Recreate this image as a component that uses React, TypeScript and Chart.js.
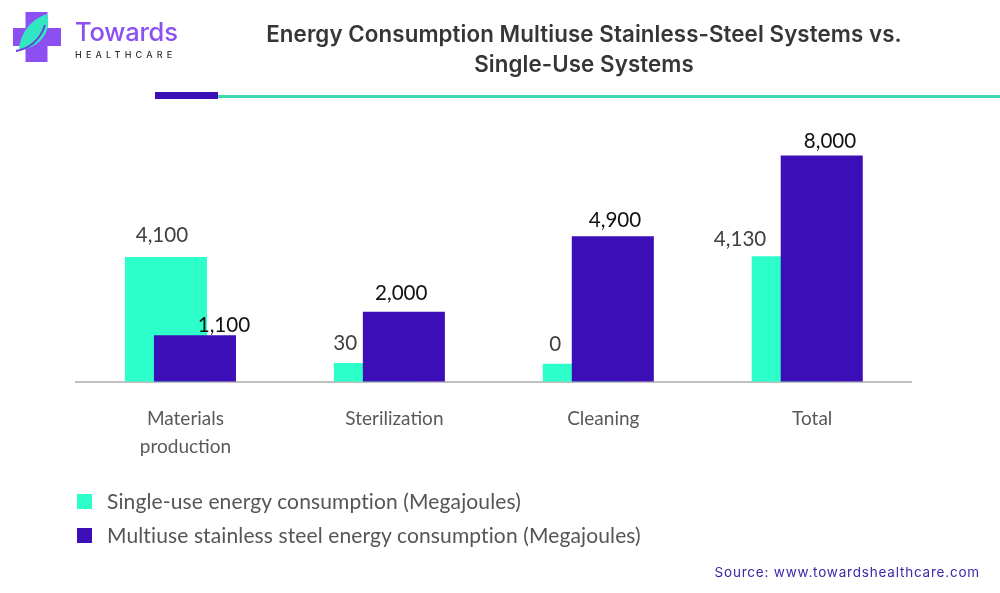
import React, { useEffect, useRef } from 'react';
import { Chart, registerables } from 'chart.js';

Chart.register(...registerables);

// ---- data ----
const categories: (string | string[])[] = [['Materials', 'production'], 'Sterilization', 'Cleaning', 'Total'];
const singleUseValues = [4100, 30, 0, 4130];
const multiuseValues = [1100, 2000, 4900, 8000];
const seriesNames = [
  'Single-use energy consumption (Megajoules)',
  'Multiuse stainless steel energy consumption (Megajoules)',
];

// ---- styles ----
const TEAL = '#2CFFC9';
const PURPLE = '#3C0EB7';
const AXIS_MIN = -680;
const AXIS_MAX = 9000;
const labelColors = ['#404040', '#111111'];
// value-label nudges [dx, dy] relative to bar top-centre
const labelNudges = [
  [[-4, -15], [-29.6, -13], [-28.5, -13], [-52.7, -10]],
  [[29, -3.5], [-2.6, -11.7], [2.2, -9.5], [8.3, -7.5]],
];

const drawOrderPlugin = {
  id: 'drawOrder',
  beforeDatasetsDraw(chart: any) {
    for (let i = 0; i < chart.data.datasets.length; i++) {
      if (chart.isDatasetVisible(i)) chart.getDatasetMeta(i).controller.draw();
    }
    return false;
  },
};

const valueLabelPlugin = {
  id: 'valueLabels',
  afterDraw(chart: any) {
    const ctx = chart.ctx;
    ctx.save();
    ctx.font = '20.6px Lato';
    ctx.textAlign = 'center';
    ctx.textBaseline = 'alphabetic';
    chart.data.datasets.forEach((ds: any, i: number) => {
      const meta = chart.getDatasetMeta(i);
      meta.data.forEach((el: any, j: number) => {
        const v = ds.data[j];
        const [dx, dy] = labelNudges[i][j];
        ctx.fillStyle = labelColors[i];
        ctx.fillText(Number(v).toLocaleString('en-US'), el.x + dx, el.y + dy);
      });
    });
    ctx.restore();
  },
};

function Logo() {
  return (
    <svg width="190" height="70" viewBox="0 0 190 70" style={{ position: 'absolute', left: 0, top: 0 }}>
      <rect x="25.5" y="12" width="22" height="50" fill="#8B4FF2" />
      <rect x="13" y="28" width="48" height="18" fill="#8B4FF2" />
      <path d="M19 49 C 21 31, 32 19, 47 14 C 51 27, 45 41, 31 47 C 27 49, 23 49, 19 49 Z" fill="#33E6C2" />
      <path d="M16 51 C 28 49, 40 41, 45 25" stroke="#6A3BE0" strokeWidth="1.8" fill="none" />
      <text x="75" y="41" fontFamily="Inter" fontWeight="500" fontSize="25.5" fill="#8B4FF2" letterSpacing="-0.2">Towards</text>
      <text x="75" y="58" fontFamily="Inter" fontWeight="500" fontSize="9" fill="#333" letterSpacing="4.2">HEALTHCARE</text>
    </svg>
  );
}

export default function App() {
  const canvasRef = useRef<HTMLCanvasElement | null>(null);

  useEffect(() => {
    const canvas = canvasRef.current;
    if (!canvas) return;
    const chart = new Chart(canvas, {
      type: 'bar',
      data: {
        labels: categories as any,
        datasets: [
          {
            label: seriesNames[0],
            data: singleUseValues,
            backgroundColor: TEAL,
            base: AXIS_MIN,
            categoryPercentage: 0.2775,
            barPercentage: 2.83,
          } as any,
          {
            label: seriesNames[1],
            data: multiuseValues,
            backgroundColor: PURPLE,
            base: AXIS_MIN,
            categoryPercentage: 0.2775,
            barPercentage: 2.83,
          } as any,
        ],
      },
      options: {
        responsive: false,
        animation: false,
        devicePixelRatio: 1,
        layout: { padding: { left: 76, right: 88.3, top: 129.5, bottom: 111.5 } },
        plugins: {
          legend: { display: false },
          tooltip: { enabled: false },
        },
        scales: {
          x: {
            grid: { display: false, drawTicks: false },
            border: { display: true, color: '#BFBFBF', width: 2 },
            ticks: {
              color: '#595959',
              font: { family: 'Lato', size: 19, lineHeight: 1.47 },
              padding: 23,
              labelOffset: 5,
              maxRotation: 0,
              autoSkip: false,
            },
            afterFit: (s: any) => {
              s.height = 100;
            },
          } as any,
          y: { display: false, min: AXIS_MIN, max: AXIS_MAX, beginAtZero: false },
        },
      },
      plugins: [drawOrderPlugin as any, valueLabelPlugin as any],
    });
    return () => chart.destroy();
  }, []);

  const legendText: React.CSSProperties = {
    position: 'absolute',
    left: 107,
    fontFamily: 'Lato',
    fontSize: 21,
    lineHeight: '20px',
    letterSpacing: 0.12,
    color: '#555555',
    whiteSpace: 'nowrap',
  };

  return (
    <div style={{ position: 'absolute', left: 0, top: 0, width: 1000, height: 593, background: '#fff', overflow: 'hidden' }}>
      <canvas ref={canvasRef} width={1000} height={593} style={{ position: 'absolute', left: 0, top: 0, width: 1000, height: 593 }} />
      <Logo />
      <div
        style={{
          position: 'absolute',
          left: 184,
          top: 18.5,
          width: 800,
          textAlign: 'center',
          fontFamily: 'Inter',
          fontWeight: 600,
          fontSize: 22.3,
          lineHeight: '30px',
          letterSpacing: 0.1,
          color: '#363636',
        }}
      >
        Energy Consumption Multiuse Stainless-Steel Systems vs.
        <br />
        Single-Use Systems
      </div>
      <div style={{ position: 'absolute', left: 155, top: 92, width: 63, height: 7, background: '#3A0FB5' }} />
      <div style={{ position: 'absolute', left: 218, top: 94.5, width: 782, height: 3, background: '#3FD9B1' }} />

      <div style={{ position: 'absolute', left: 77, top: 494, width: 14.5, height: 14.5, background: TEAL }} />
      <div style={{ ...legendText, top: 491 }}>{seriesNames[0]}</div>
      <div style={{ position: 'absolute', left: 77, top: 528, width: 14.5, height: 14.5, background: PURPLE }} />
      <div style={{ ...legendText, top: 525 }}>{seriesNames[1]}</div>

      <div
        style={{
          position: 'absolute',
          right: 20,
          top: 563,
          fontFamily: 'Inter',
          fontSize: 13.5,
          lineHeight: '18px',
          letterSpacing: 0.8,
          color: '#3F26A8',
          whiteSpace: 'nowrap',
        }}
      >
        Source: www.towardshealthcare.com
      </div>
    </div>
  );
}
